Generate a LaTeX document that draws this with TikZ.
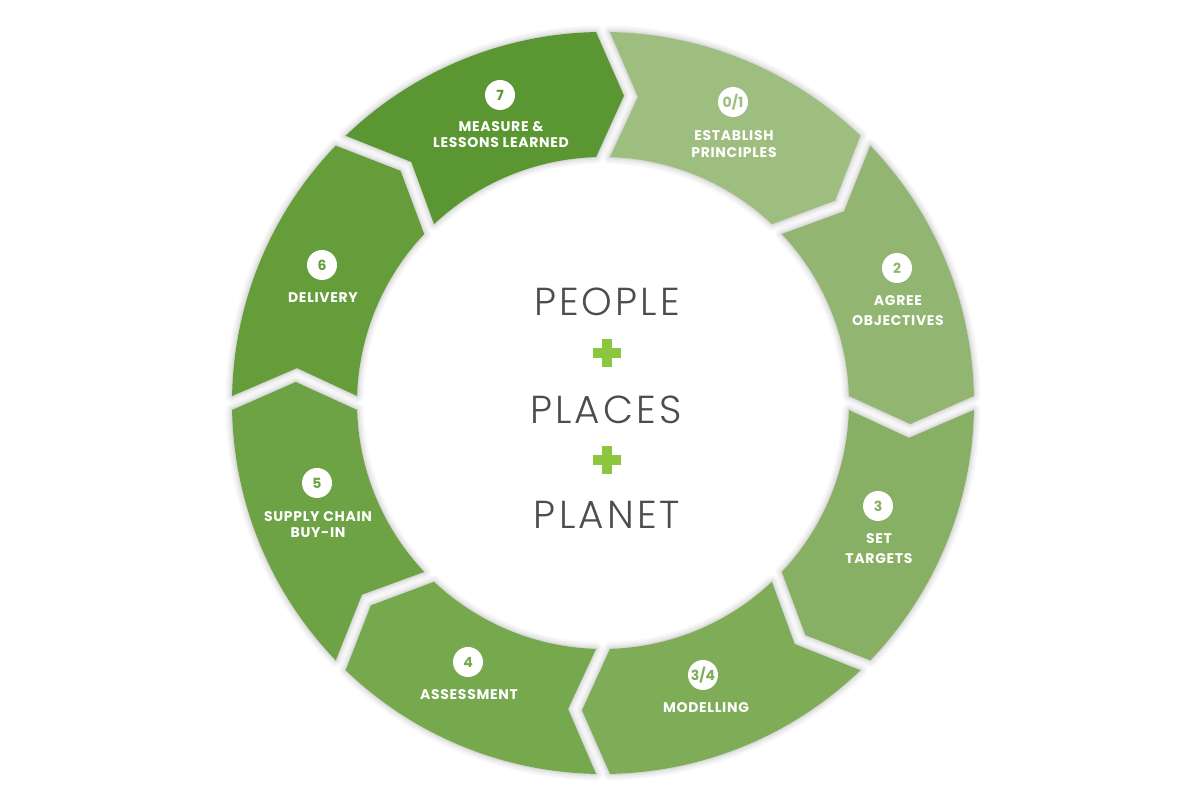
\documentclass[tikz,border=0pt]{standalone}
\usepackage{fontspec}
\usetikzlibrary{calc}
\IfFontExistsTF{Poppins Bold}{\newfontfamily\lblfont{Poppins Bold}[LetterSpace=5]}{\newfontfamily\lblfont{Poppins}[LetterSpace=5]}
\IfFontExistsTF{Poppins Bold}{\newfontfamily\badgefont{Poppins Bold}}{\newfontfamily\badgefont{Poppins}}
\IfFontExistsTF{Poppins Light}{\newfontfamily\thinfont{Poppins Light}[LetterSpace=8]}{\newfontfamily\thinfont{Poppins}[LetterSpace=8]}
\definecolor{c7}{HTML}{5A9631}
\definecolor{c6}{HTML}{649D3A}
\definecolor{c5}{HTML}{6DA245}
\definecolor{c4}{HTML}{76A84E}
\definecolor{c34}{HTML}{7EAC57}
\definecolor{c3}{HTML}{88B065}
\definecolor{c2}{HTML}{92B671}
\definecolor{c01}{HTML}{9DBE7E}
\definecolor{plusgreen}{HTML}{8CC63F}
\definecolor{txtgrey}{HTML}{4D4D4D}
\tikzset{
  glow/.style={
    preaction={draw=black,draw opacity=0.03,line width=13pt,line join=round},
    preaction={draw=black,draw opacity=0.035,line width=9pt,line join=round},
    preaction={draw=black,draw opacity=0.045,line width=5pt,line join=round},
    preaction={draw=black,draw opacity=0.05,line width=2pt,line join=round}},
  badge/.style={circle,fill=white,minimum size=30pt,inner sep=0pt,
    font=\badgefont\fontsize{14}{14}\selectfont},
  lbl/.style={text=white,align=center,inner sep=0pt,
    font=\lblfont\fontsize{14}{16}\selectfont},
  lblwide/.style={lbl,font=\lblfont\fontsize{14}{20}\selectfont},
  lblmid/.style={lbl,font=\lblfont\fontsize{14}{17}\selectfont},
  bigword/.style={text=txtgrey,inner sep=0pt,font=\thinfont\fontsize{39}{40}\selectfont}
}
\newcommand{\ringseg}[2]{%
  \pgfmathsetmacro{\as}{90-45*#1}%
  \pgfmathsetmacro{\ae}{\as-45}%
  \fill[#2,glow]
    ($(C)+(\as-\eo:\Ro)$) arc[start angle=\as-\eo, end angle=\ae+\eo, radius=\Ro]
    -- ($(C)+(\ae-\tpe:\Rm)$)
    -- ($(C)+(\ae+\ei:\Ri)$) arc[start angle=\ae+\ei, end angle=\as-\ei, radius=\Ri]
    -- ($(C)+(\as-\tps:\Rm)$) -- cycle;
}
\begin{document}
\begin{tikzpicture}[x=1pt,y=1pt]
\useasboundingbox (0,0) rectangle (1200,800);
\fill[white] (0,0) rectangle (1200,800);
\coordinate (C) at (603,397);
\def\Ro{371}\def\Ri{246}\def\Rm{308}
\def\eo{1.08}\def\ei{1.63}\def\tps{6.51}\def\tpe{3.91}
\ringseg{0}{c01}
\ringseg{1}{c2}
\ringseg{2}{c3}
\ringseg{3}{c34}
\ringseg{4}{c4}
\ringseg{5}{c5}
\ringseg{6}{c6}
\ringseg{7}{c7}
% badges and labels
\node[badge,text=c01] (b01) at (733,698) {0/1};
\node[lblmid] (l01) at (734,655.5) {ESTABLISH\\PRINCIPLES};
\node[badge,text=c2] (b2) at (897,532) {2};
\node[lblwide] (l2) at (898,489) {AGREE\\OBJECTIVES};
\node[badge,text=c3] (b3) at (878,294) {3};
\node[lblwide] (l3) at (879,251) {SET\\TARGETS};
\node[badge,text=c34] (b34) at (703,125) {3/4};
\node[lbl] (l34) at (706,92) {MODELLING};
\node[badge,text=c4] (b4) at (468,138) {4};
\node[lbl] (l4) at (469,105) {ASSESSMENT};
\node[badge,text=c5] (b5) at (317,317) {5};
\node[lbl] (l5) at (318,275) {SUPPLY CHAIN\\BUY-IN};
\node[badge,text=c6] (b6) at (322,535) {6};
\node[lbl] (l6) at (323,502) {DELIVERY};
\node[badge,text=c7] (b7) at (500,705) {7};
\node[lbl] (l7) at (501,665) {MEASURE \&\\LESSONS LEARNED};
% centre words
\node[bigword] (w1) at (607,498.5) {PEOPLE};
\node[bigword] (w2) at (606,390.5) {PLACES};
\node[bigword] (w3) at (607,285.5) {PLANET};
\fill[plusgreen] (593,442) rectangle (621,452);
\fill[plusgreen] (602,433) rectangle (612,461);
\fill[plusgreen] (593,335) rectangle (621,345);
\fill[plusgreen] (602,326) rectangle (612,354);
\end{tikzpicture}
\end{document}
